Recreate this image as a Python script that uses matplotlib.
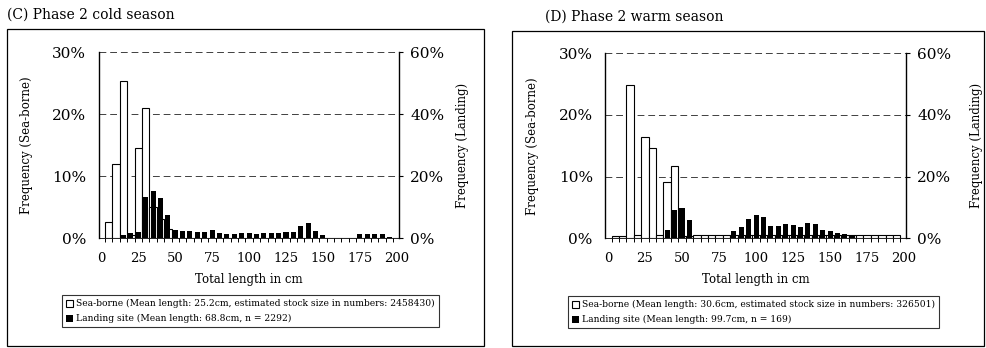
import numpy as np
import matplotlib.pyplot as plt
from matplotlib.patches import Rectangle

plt.rcParams['font.family'] = ['DejaVu Serif']

# length classes (cm), 5 cm steps
length_cm = np.arange(5, 205, 5)

# (C) Phase 2 cold season, frequency in % per class
cold_seaborne = [2.6, 12.0, 25.3, 0.5, 14.5, 21.0, 5.0, 3.0, 1.5, 0, 0, 0, 0, 0,
                 0, 0, 0, 0, 0, 0, 0, 0, 0, 0, 0, 0, 0, 0, 0, 0, 0, 0, 0, 0, 0,
                 0, 0, 0, 0, 0]
cold_landing = [0, 0, 1.0, 1.5, 2.0, 13.1, 15.3, 13.0, 7.4, 2.6, 2.4, 2.4, 2.0,
                2.0, 2.6, 1.7, 1.2, 1.2, 1.5, 1.7, 1.3, 1.7, 1.5, 1.5, 1.9, 2.0,
                3.9, 4.9, 2.4, 1.0, 0, 0, 0, 0, 1.2, 1.2, 1.2, 1.2, 0.3, 0]

# (D) Phase 2 warm season
warm_seaborne = [0.3, 0.3, 24.8, 0.5, 16.4, 14.6, 0.5, 9.2, 11.7, 0.3, 0.3, 0.5,
                 0.5, 0.5, 0.5, 0.5, 0.5, 0.5, 0.5, 0.5, 0.5, 0.5, 0.5, 0.5, 0.5,
                 0.5, 0.5, 0.5, 0.5, 0.5, 0.5, 0.5, 0.5, 0.5, 0.5, 0.5, 0.5, 0.5,
                 0.5, 0]
warm_landing = [0, 0, 0, 0, 0, 0, 0, 2.6, 9.3, 9.7, 5.9, 0, 0, 0, 0, 0, 2.4, 3.8,
                6.2, 7.6, 7.0, 4.0, 4.0, 4.5, 4.3, 3.8, 4.9, 4.5, 2.7, 2.4, 1.6,
                1.4, 1.1, 0, 0, 0, 0, 0, 0, 0]

left_ticks = [0, 10, 20, 30]
right_ticks = [0, 20, 40, 60]
x_ticks = [0, 25, 50, 75, 100, 125, 150, 175, 200]

W, H = 987, 348
fig = plt.figure(figsize=(W / 100, H / 100), dpi=100)


def px(x0, y0, x1, y1):
    # pixel box -> figure fraction rect
    return [x0 / W, 1 - y1 / H, (x1 - x0) / W, (y1 - y0) / H]


def panel(rect, sea, land, title, title_xy, box, labels, leg_xy, rlab_x):
    fig.add_artist(Rectangle((box[0] / W, 1 - box[3] / H),
                             (box[2] - box[0]) / W, (box[3] - box[1]) / H,
                             transform=fig.transFigure, fill=False,
                             edgecolor='black', lw=0.9))
    fig.text(title_xy[0] / W, 1 - title_xy[1] / H, title, fontsize=10,
             va='center', ha='left')

    ax = fig.add_axes(rect)
    b1 = ax.bar(length_cm, sea, width=5, color='white', edgecolor='black',
                lw=0.8, zorder=2)
    ax.set_ylim(0, 30)
    ax.set_xlim(-1.8, 201.5)
    ax.set_yticks(left_ticks)
    ax.set_yticklabels([f'{t}%' for t in left_ticks], fontsize=11)
    ax.set_xticks(x_ticks)
    ax.set_xticklabels([str(t) for t in x_ticks], fontsize=9.5)
    ax.set_xticks(np.arange(2.5, 200, 5), minor=True)
    ax.tick_params(axis='x', which='major', length=0, pad=10)
    ax.tick_params(axis='x', which='minor', length=3, width=0.7)
    ax.tick_params(axis='y', length=0, pad=9)
    ax.yaxis.grid(True, linestyle=(0, (7, 4)), color='0.25', lw=0.7)
    ax.set_axisbelow(True)
    for s in ['top', 'right']:
        ax.spines[s].set_visible(False)
    ax.spines['left'].set_linewidth(1.0)
    ax.spines['bottom'].set_linewidth(0.6)
    ax.set_ylabel('Frequency (Sea-borne)', fontsize=8.5)
    ax.yaxis.set_label_coords(-0.22, 0.5)
    ax.set_xlabel('Total length in cm', fontsize=8.5)
    ax.xaxis.set_label_coords(0.5, -0.19)

    ax2 = ax.twinx()
    b2 = ax2.bar(length_cm, land, width=3.4, color='black', zorder=3)
    ax2.set_ylim(0, 60)
    ax2.set_yticks(right_ticks)
    ax2.set_yticklabels([f'{t}%' for t in right_ticks], fontsize=11)
    ax2.tick_params(axis='y', length=3, width=0.8, pad=5)
    for s in ['top', 'left', 'bottom']:
        ax2.spines[s].set_visible(False)
    ax2.spines['right'].set_linewidth(1.0)
    ax2.set_ylabel('Frequency (Landing)', fontsize=8.5)
    ax2.yaxis.set_label_coords(rlab_x, 0.5)

    leg = ax.legend([b1, b2], labels, loc='upper left',
                    bbox_to_anchor=(leg_xy[0] / W, 1 - leg_xy[1] / H),
                    bbox_transform=fig.transFigure, fontsize=6.6,
                    frameon=True, fancybox=False, edgecolor='black',
                    handlelength=0.8, handleheight=0.8, handletextpad=0.3,
                    labelspacing=0.65, borderpad=0.45, borderaxespad=0)
    leg.get_frame().set_linewidth(0.8)
    return ax


panel(px(98.7, 52, 399, 238), cold_seaborne, cold_landing,
      '(C) Phase 2 cold season', (7, 15), (7, 29, 484, 346),
      ['Sea-borne (Mean length: 25.2cm, estimated stock size in numbers: 2458430)',
       'Landing site (Mean length: 68.8cm, n = 2292)'],
      (62, 295), 1.19)

panel(px(605.3, 53.3, 906.3, 238.3), warm_seaborne, warm_landing,
      '(D) Phase 2 warm season', (545, 17), (512, 31, 984, 346),
      ['Sea-borne (Mean length: 30.6cm, estimated stock size in numbers: 326501)',
       'Landing site (Mean length: 99.7cm, n = 169)'],
      (568, 296), 1.21)

fig.savefig('out.png', dpi=100)
